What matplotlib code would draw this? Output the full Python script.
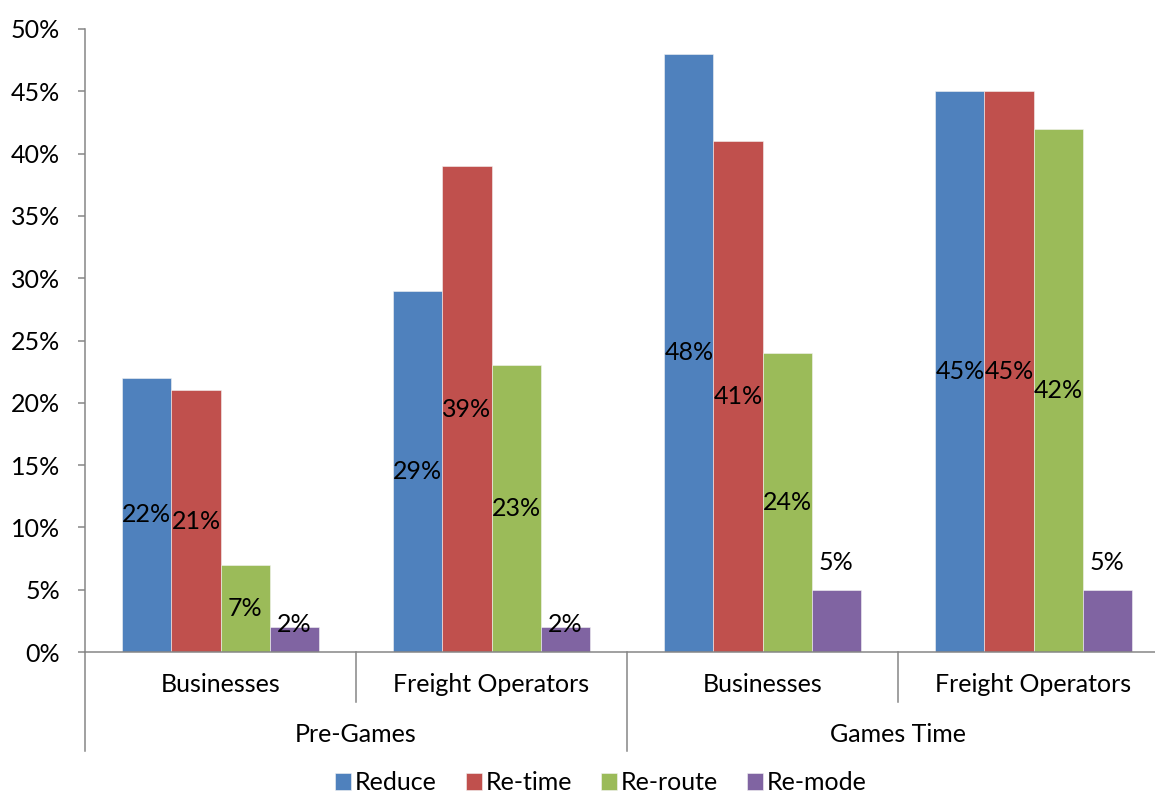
import matplotlib
matplotlib.use("Agg")
import matplotlib.pyplot as plt
import numpy as np

# survey response shares, in percent
periods = ["Pre-Games", "Games Time"]
respondents = ["Businesses", "Freight Operators"]
series = ["Reduce", "Re-time", "Re-route", "Re-mode"]
reduce_pct = [22, 29, 48, 45]
retime_pct = [21, 39, 41, 45]
reroute_pct = [7, 23, 24, 42]
remode_pct = [2, 2, 5, 5]
yticks = [0, 5, 10, 15, 20, 25, 30, 35, 40, 45, 50]

colors = ["#4F81BD", "#C0504D", "#9BBB59", "#8064A2"]
axis_grey = "#868686"
fs = 18

plt.rcParams["font.family"] = ["Lato", "DejaVu Sans"]

fig = plt.figure(figsize=(11.55, 7.96), dpi=100)
ax = fig.add_axes([85 / 1155, 1 - 652 / 796, 1084 / 1155, 623 / 796])

values = [reduce_pct, retime_pct, reroute_pct, remode_pct]
n_groups = len(reduce_pct)
x = np.arange(n_groups)
bar_w = 0.181

for i, (name, vals, col) in enumerate(zip(series, values, colors)):
    pos = x + (i - 1.5) * bar_w
    ax.bar(pos, vals, width=bar_w, color=col, edgecolor="#f4f4f4",
           linewidth=0.4, label=name, zorder=2)
    for px, v in zip(pos, vals):
        if v >= 7:
            ly = v / 2
        elif v < 3:
            ly = v + 0.2
        else:
            ly = v + 2.2
        ax.text(px, ly, f"{v}%", ha="center", va="center",
                fontsize=fs, color="black", zorder=3)

ax.set_xlim(-0.5, n_groups - 0.5)
ax.set_ylim(0, 50)
ax.set_yticks(yticks)
ax.set_yticklabels([f"{t}%" for t in yticks], fontsize=fs)
ax.tick_params(axis="y", length=5, width=1.1, color=axis_grey, pad=13)
ax.set_xticks([])

for side in ["top", "right"]:
    ax.spines[side].set_visible(False)
for side in ["left", "bottom"]:
    ax.spines[side].set_color(axis_grey)
    ax.spines[side].set_linewidth(1.1)

# two-level category axis drawn below the plot
trans = ax.get_xaxis_transform()
row1 = -50 / 623
row2 = -99 / 623
for gi in range(n_groups):
    ax.text(gi, -32 / 623, respondents[gi % 2], transform=trans,
            ha="center", va="center", fontsize=fs, clip_on=False)
for pi, period in enumerate(periods):
    ax.text(pi * 2 + 0.5, -82 / 623, period, transform=trans,
            ha="center", va="center", fontsize=fs, clip_on=False)

for bx in np.arange(-0.5, n_groups, 1.0):
    low = row2 if (bx + 0.5) % 2 == 0 else row1
    ax.plot([bx, bx], [0, low], transform=trans, color=axis_grey,
            linewidth=1.1, clip_on=False)

leg = ax.legend(loc="center", bbox_to_anchor=(516 / 1084, -131 / 623),
                ncol=4, frameon=False, fontsize=fs, handlelength=0.65,
                handleheight=0.65, handletextpad=0.15, columnspacing=1.15,
                borderpad=0.2)

fig.savefig("out.png", dpi=100)
